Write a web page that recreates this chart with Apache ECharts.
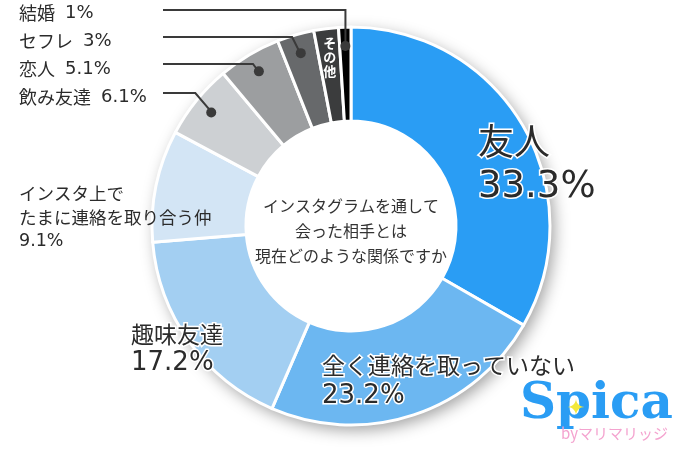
<!DOCTYPE html>
<html><head><meta charset="utf-8">
<script src="https://cdn.jsdelivr.net/npm/echarts@6/dist/echarts.min.js"></script>
<style>html,body{margin:0;padding:0;background:#fff}#c{width:690px;height:450px}</style>
</head><body><div id="c"></div>
<script>
// ---- data ----
const categories = ['友人', '全く連絡を取っていない', '趣味友達', 'インスタ上で\nたまに連絡を取り合う仲', '飲み友達', '恋人', 'セフレ', 'その他', '結婚'];
const values = [33.3, 23.2, 17.2, 9.1, 6.1, 5.1, 3, 2, 1];
const colors = ['#2a9df4', '#6cb7f1', '#a3cff2', '#d3e5f5', '#cdd0d3', '#9c9ea0', '#67696b', '#3b3c3d', '#000000'];
const centerTitle = 'インスタグラムを通して\n会った相手とは\n現在どのような関係ですか';
const bigItems = [0, 1, 2];          // large labels
const leaderItems = [4, 5, 6, 8];    // labels with leader lines and dots
const verticalItem = 7;              // その他 written vertically

// ---- layout ----
const CX = 351, CY = 226, R0 = 105, R1 = 199, RDOT = 177, RVERT = 170, LINE_END_X = 163;
const JP = '"Noto Sans CJK JP"';
const NUM = '"DejaVu Sans"';
const labelPos = {
  0: {x: 478, y: 164},
  1: {x: 322, y: 381},
  2: {x: 131, y: 349},
  3: {x: 19, y: 217},
  4: {x: 19, y: 97, lineY: 93, k: 0.85},
  5: {x: 19, y: 69, lineY: 64, k: 0.75},
  6: {x: 19, y: 41, lineY: 37, k: 0.5},
  8: {x: 19, y: 13, lineY: 10, k: 0}
};
const total = values.reduce((a, b) => a + b, 0);
function midAngle(i) {
  let s = 0;
  for (let j = 0; j < i; j++) s += values[j];
  return (s + values[i] / 2) / total * Math.PI * 2;
}
function pt(i, r) {
  const a = midAngle(i);
  return [CX + r * Math.sin(a), CY - r * Math.cos(a)];
}

const halo = {textBorderColor: '#fff', textBorderWidth: 3};
const mainData = categories.map((name, i) => {
  const item = {name: name, value: values[i], itemStyle: {color: colors[i]}, labelLine: {show: false}};
  const v = values[i] + '%';
  if (bigItems.includes(i)) {
    const big = i === 0;
    const lh = big ? 46 : (i === 1 ? 31 : 29);
    item.label = {
      show: true, position: 'inside',
      formatter: '{n|' + name + '}\n{v|' + v + '}',
      rich: {
        n: Object.assign({fontFamily: JP, fontSize: big ? 36 : 23, color: '#2b2b2b', lineHeight: lh}, halo),
        v: Object.assign({fontFamily: NUM, fontSize: big ? 37 : 26, color: '#2b2b2b', lineHeight: lh}, halo)
      }
    };
  } else if (i === 3) {
    const parts = name.split('\n');
    item.label = {
      show: true, position: 'inside',
      formatter: '{n|' + parts[0] + '}\n{n|' + parts[1] + '}\n{v|' + v + '}',
      rich: {
        n: {fontFamily: JP, fontSize: 17.5, color: '#2b2b2b', lineHeight: 24},
        v: {fontFamily: NUM, fontSize: 17.5, color: '#2b2b2b', lineHeight: 24}
      }
    };
  } else if (i === verticalItem) {
    item.label = {
      show: true, position: 'inside',
      formatter: name.split('').join('\n'),
      fontFamily: JP, fontSize: 13, fontWeight: 'bold', color: '#fff', lineHeight: 14
    };
  } else {
    item.label = {show: false};
  }
  return item;
});

// leader-line labels (drawn above the ring)
const leaderData = categories.map((name, i) => {
  const show = leaderItems.includes(i);
  return {
    name: name, value: values[i],
    label: show ? {
      show: true, position: 'outside',
      formatter: '{n|' + name + '}{s| }{v|' + values[i] + '%}',
      rich: {
        n: {fontFamily: JP, fontSize: 18, color: '#2b2b2b'},
        s: {width: 10},
        v: {fontFamily: NUM, fontSize: 18, color: '#2b2b2b'}
      }
    } : {show: false},
    labelLine: {show: show, lineStyle: {color: '#3a3a3a', width: 2}}
  };
});

const dotData = categories.map((name, i) => ({
  name: name, value: values[i],
  label: {show: leaderItems.includes(i)}
}));

const chart = echarts.init(document.getElementById('c'), null, {renderer: 'canvas'});
chart.setOption({
  animation: false,
  backgroundColor: '#fff',
  series: [
    {
      type: 'pie', silent: true, z: 1,
      center: [CX, CY], radius: [0, R1],
      label: {show: false}, labelLine: {show: false},
      itemStyle: {color: '#fff', shadowBlur: 16, shadowColor: 'rgba(0,0,0,0.38)', shadowOffsetX: 4, shadowOffsetY: 5},
      data: [{value: 1}]
    },
    {
      type: 'pie', silent: true, z: 2,
      center: [CX, CY], radius: [R0, R1],
      startAngle: 90, clockwise: true,
      avoidLabelOverlap: false,
      itemStyle: {borderColor: '#fff', borderWidth: 3},
      label: {overflow: 'none'},
      labelLayout: function (p) {
        const i = p.dataIndex;
        if (i === verticalItem) {
          const q = pt(i, RVERT);
          return {x: q[0], y: q[1], align: 'center', verticalAlign: 'middle'};
        }
        const L = labelPos[i];
        if (!L) return {};
        return {x: L.x, y: L.y, align: 'left', verticalAlign: 'middle'};
      },
      data: mainData
    },
    {
      type: 'pie', silent: true, z: 3,
      center: [CX, CY], radius: [RDOT - 7, RDOT + 7],
      startAngle: 90, clockwise: true,
      avoidLabelOverlap: false,
      itemStyle: {color: 'rgba(0,0,0,0)', borderWidth: 0},
      label: {overflow: 'none'},
      labelLine: {lineStyle: {color: '#3a3a3a', width: 2}},
      labelLayout: function (p) {
        const i = p.dataIndex;
        const L = labelPos[i];
        if (!L || L.lineY === undefined) return {};
        const d = pt(i, RDOT);
        const bx = d[0] - L.k * (d[1] - L.lineY);
        return {
          x: L.x, y: L.y, align: 'left', verticalAlign: 'middle',
          labelLinePoints: [[d[0], d[1]], [bx, L.lineY], [LINE_END_X, L.lineY]]
        };
      },
      data: leaderData
    },
    {
      type: 'pie', silent: true, z: 4,
      center: [CX, CY], radius: [RDOT - 7, RDOT + 7],
      startAngle: 90, clockwise: true,
      itemStyle: {color: 'rgba(0,0,0,0)', borderWidth: 0},
      label: {
        position: 'inside', formatter: '{d| }',
        rich: {d: {width: 10, height: 10, borderRadius: 5, backgroundColor: '#3a3a3a'}}
      },
      labelLine: {show: false},
      data: dotData
    }
  ],
  graphic: [
    {type: 'text', x: CX, y: CY + 5, z: 10, silent: true,
     style: {text: centerTitle, font: '16px ' + JP, fill: '#333', textAlign: 'center', align: 'center', textVerticalAlign: 'middle', verticalAlign: 'middle', lineHeight: 25}},
    {type: 'text', x: 520, y: 430, z: 10, silent: true,
     style: {text: 'Spica', font: 'bold 50px "DejaVu Serif"', fill: '#2a9df4', textAlign: 'left', align: 'left', textVerticalAlign: 'bottom', verticalAlign: 'bottom'}},
    {type: 'text', x: 576, y: 409, z: 11, silent: true,
     style: {text: '✦', font: '22px "DejaVu Sans"', fill: '#f3e83a', textAlign: 'center', align: 'center', textVerticalAlign: 'middle', verticalAlign: 'middle'}},
    {type: 'text', x: 668, y: 441, z: 10, silent: true,
     style: {text: 'byマリマリッジ', font: '15px ' + JP, fill: '#f4a3cf', textAlign: 'right', align: 'right', textVerticalAlign: 'bottom', verticalAlign: 'bottom'}}
  ]
});
</script>
</body></html>
